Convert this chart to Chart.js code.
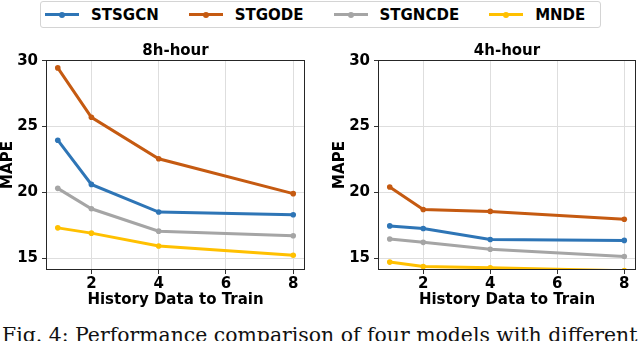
<!DOCTYPE html>
<html>
<head>
<meta charset="utf-8">
<script src="https://cdn.jsdelivr.net/npm/chart.js@4.4.0/dist/chart.umd.min.js"></script>
<style>
  html, body { margin:0; padding:0; background:#fff; }
  body { width:640px; height:341px; overflow:hidden; position:relative; font-family:"DejaVu Sans", sans-serif; }
  canvas { position:absolute; top:0; }
  #legend { position:absolute; left:40px; top:1px; width:555px; height:25px; border:1px solid #d4d4d4; border-radius:3px; background:#fff; box-sizing:content-box; display:flex; align-items:center; padding-left:4px; }
  .item { display:flex; align-items:center; margin-right:30px; }
  .swatch { position:relative; width:34px; height:3px; margin-right:12px; }
  .swatch i { position:absolute; left:14px; top:-1.5px; width:6px; height:6px; border-radius:50%; }
  .lbl { font:bold 15px "DejaVu Sans"; color:#000; white-space:nowrap; }
  #caption { position:absolute; left:2px; top:325.4px; font:20.4px/20.4px "DejaVu Serif", serif; color:#111; white-space:nowrap; }
</style>
</head>
<body>
<div id="legend"></div>
<canvas id="c8" width="320" height="312" style="left:0;width:320px;height:312px"></canvas>
<canvas id="c4" width="320" height="312" style="left:320px;width:320px;height:312px"></canvas>
<div id="caption">Fig. 4: Performance comparison of four models with different</div>
<script>
// ---- data ----
const historyX = [1, 2, 4, 8];
const seriesNames = ['STSGCN', 'STGODE', 'STGNCDE', 'MNDE'];
const seriesColors = ['#2E75B6', '#C55A11', '#A5A5A5', '#FFC000'];
const panelTitles = ['8h-hour', '4h-hour'];
const xTicks = [2, 4, 6, 8];
const yTicks = [15, 20, 25, 30];

const h8_STSGCN  = [23.96, 20.6, 18.5, 18.3];
const h8_STGODE  = [29.45, 25.7, 22.55, 19.9];
const h8_STGNCDE = [20.3, 18.75, 17.05, 16.7];
const h8_MNDE    = [17.3, 16.9, 15.92, 15.22];

const h4_STSGCN  = [17.45, 17.25, 16.42, 16.35];
const h4_STGODE  = [20.4, 18.7, 18.55, 17.95];
const h4_STGNCDE = [16.45, 16.2, 15.68, 15.12];
const h4_MNDE    = [14.7, 14.36, 14.27, 14.05];

const panel8 = [h8_STSGCN, h8_STGODE, h8_STGNCDE, h8_MNDE];
const panel4 = [h4_STSGCN, h4_STGODE, h4_STGNCDE, h4_MNDE];

// ---- legend (HTML) ----
const legend = document.getElementById('legend');
seriesNames.forEach((n, i) => {
  const it = document.createElement('div'); it.className = 'item';
  const sw = document.createElement('div'); sw.className = 'swatch'; sw.style.background = seriesColors[i];
  const dot = document.createElement('i'); dot.style.background = seriesColors[i]; sw.appendChild(dot);
  const lb = document.createElement('span'); lb.className = 'lbl'; lb.textContent = n;
  it.appendChild(sw); it.appendChild(lb); legend.appendChild(it);
});

const FONT = 'DejaVu Sans';
const framePlugin = {
  id: 'frame',
  afterDatasetsDraw(chart) {
    const {ctx, chartArea: a} = chart;
    ctx.save();
    ctx.strokeStyle = '#262626';
    ctx.lineWidth = 1;
    ctx.strokeRect(Math.round(a.left) + 0.5, Math.round(a.top) + 0.5, Math.round(a.right - a.left) - 1, Math.round(a.bottom - a.top) - 1);
    ctx.restore();
  }
};

function makeChart(id, data, title, yWidth, padLeft, padRight) {
  const datasets = data.map((vals, i) => ({
    label: seriesNames[i],
    data: historyX.map((x, k) => ({x: x, y: vals[k]})),
    borderColor: seriesColors[i],
    backgroundColor: seriesColors[i],
    pointBackgroundColor: seriesColors[i],
    pointBorderColor: seriesColors[i],
    borderWidth: 3,
    pointRadius: 2.8,
    pointBorderWidth: 0,
    tension: 0,
    clip: 0,
    order: 3 - i
  }));
  return new Chart(document.getElementById(id), {
    type: 'line',
    data: { datasets },
    plugins: [framePlugin],
    options: {
      responsive: false,
      animation: false,
      devicePixelRatio: 1,
      layout: { padding: { left: padLeft, right: padRight, top: 0, bottom: 0 } },
      plugins: { legend: { display: false }, tooltip: { enabled: false }, title: { display: false } },
      scales: {
        x: {
          type: 'linear', position: 'bottom', min: 0.65, max: 8.35,
          afterBuildTicks: s => { s.ticks = xTicks.map(v => ({value: v})); },
          afterFit: s => { s.height = 42; },
          grid: { color: '#dedede', lineWidth: 1, tickColor: '#333', tickLength: 4 },
          border: { display: false },
          ticks: { color: '#000', font: { family: FONT, size: 15, weight: 'bold' }, padding: 1, maxRotation: 0 },
          title: { display: true, text: 'History Data to Train', color: '#000', font: { family: FONT, size: 15, weight: 'bold', lineHeight: 1.2 }, padding: { top: 0, bottom: 3 } }
        },
        xTop: {
          type: 'linear', position: 'top', min: 0.65, max: 8.35,
          grid: { display: false }, border: { display: false }, ticks: { display: false },
          afterFit: s => { s.height = 60; },
          title: { display: true, text: title, color: '#000', font: { family: FONT, size: 15, weight: 'bold', lineHeight: 1.2 }, padding: { top: 42, bottom: 0 } }
        },
        y: {
          type: 'linear', position: 'left', min: 14.1, max: 30.05,
          afterBuildTicks: s => { s.ticks = yTicks.map(v => ({value: v})); },
          afterFit: s => { s.width = yWidth; },
          grid: { color: '#dedede', lineWidth: 1, tickColor: '#333', tickLength: 4 },
          border: { display: false },
          ticks: { color: '#000', font: { family: FONT, size: 15, weight: 'bold' }, padding: 4 },
          title: { display: true, text: 'MAPE', color: '#000', font: { family: FONT, size: 15, weight: 'bold', lineHeight: 1.1 }, padding: 0 }
        }
      }
    }
  });
}

makeChart('c8', panel8, panelTitles[0], 46, 0, 15);
makeChart('c4', panel4, panelTitles[1], 46, 12, 3);
</script>
</body>
</html>
